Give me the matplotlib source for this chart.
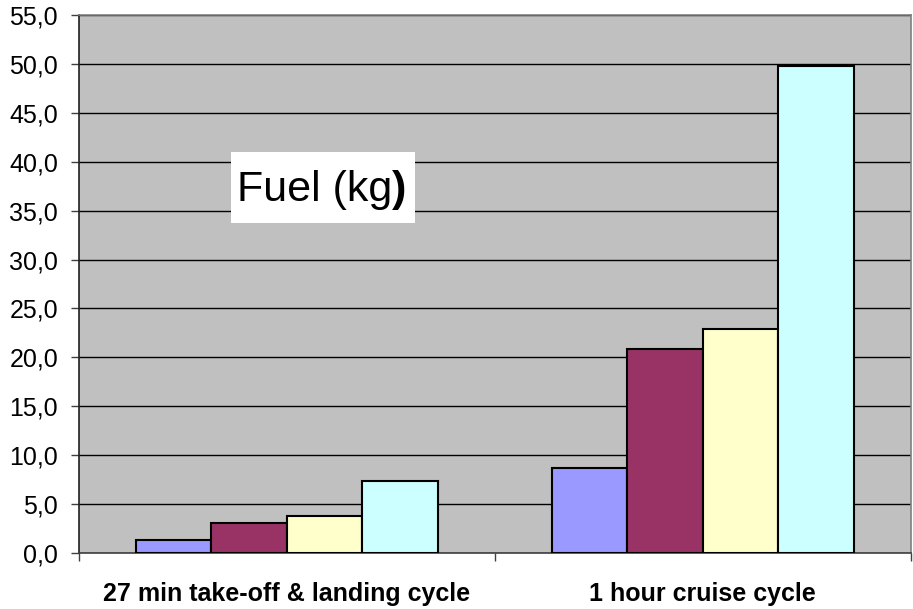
import numpy as np
import matplotlib.pyplot as plt
from matplotlib.ticker import FuncFormatter
from matplotlib.patches import Rectangle

plt.rcParams['font.family'] = ['Liberation Sans', 'DejaVu Sans']

categories = ['27 min take-off & landing cycle', '1 hour cruise cycle']
series_1 = [1.3, 8.7]
series_2 = [3.1, 20.9]
series_3 = [3.8, 22.9]
series_4 = [7.4, 49.8]
colors = ['#9999FF', '#993366', '#FFFFCC', '#CCFFFF']

fig = plt.figure(figsize=(9.13, 6.09), dpi=100)
ax = fig.add_axes([0.0865, 0.092, 0.911, 0.8834])
ax.set_facecolor('#C0C0C0')

x = np.arange(len(categories))
w = 0.1815
for j, vals in enumerate([series_1, series_2, series_3, series_4]):
    ax.bar(x + (j - 1.5) * w, vals, width=w, color=colors[j],
           edgecolor='black', linewidth=1.5, zorder=3)

ax.set_xlim(-0.5, 1.5)
ax.set_ylim(0, 55)
ax.set_yticks(np.arange(0, 56, 5))
ax.yaxis.set_major_formatter(FuncFormatter(lambda v, p: f'{v:.1f}'.replace('.', ',')))
ax.yaxis.grid(True, color='black', linewidth=1)
ax.set_axisbelow(True)

ax.set_xticks(x)
ax.set_xticklabels(categories, fontweight='bold', fontsize=18)
ax.set_xticks([-0.5, 0.5, 1.5], minor=True)
ax.tick_params(axis='x', which='major', length=0, pad=21)
ax.tick_params(axis='x', which='minor', length=6, width=1, color='#404040', direction='out')
ax.tick_params(axis='y', length=6, width=1, color='#404040', labelsize=18, pad=9)

for s in ['top', 'right']:
    ax.spines[s].set_color('#808080')
ax.spines['left'].set_color('#202020')
ax.spines['bottom'].set_color('#404040')
for s in ax.spines.values():
    s.set_linewidth(1.2)

# label box
ax.add_patch(Rectangle((0.1827, 0.613), 0.2215, 0.132, transform=ax.transAxes,
                       facecolor='white', edgecolor='none', zorder=5))
t = ax.text(0.19, 0.654, 'Fuel (kg', transform=ax.transAxes, fontsize=31,
            va='baseline', ha='left', zorder=6)
ax.annotate(')', xy=(1, 0), xycoords=t, va='bottom', ha='left',
            fontsize=31, fontweight='bold', zorder=6)

fig.savefig('out.png', dpi=100)
